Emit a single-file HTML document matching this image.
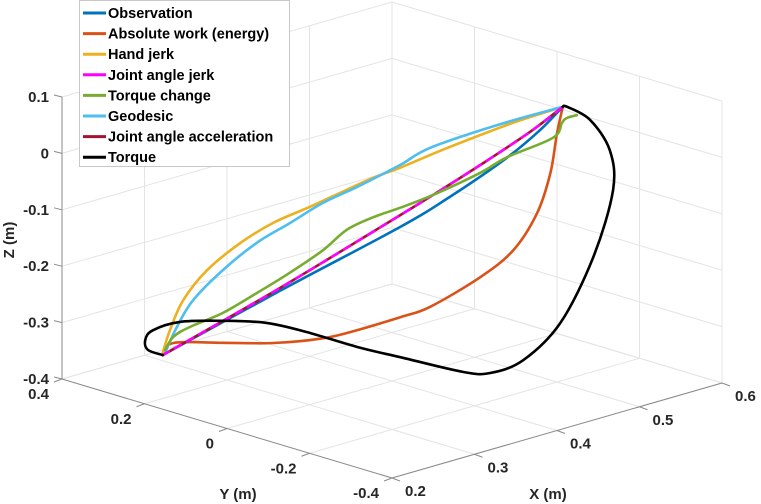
<!DOCTYPE html>
<html><head><meta charset="utf-8"><style>
body{margin:0;background:#fff;}
svg{display:block;font-family:"Liberation Sans",sans-serif;}
</style></head><body>
<svg id="chart" width="761" height="504" viewBox="0 0 761 504">
<g id="grid"></g>
<g id="axes"></g>
<g id="series"></g>
<g id="legend"></g>
</svg>
<script>
const xTicks=[0.2,0.3,0.4,0.5,0.6];
const yTicks=[0.4,0.2,0,-0.2,-0.4];
const zTicks=[0.1,0,-0.1,-0.2,-0.3,-0.4];
const seriesNames=["Observation","Absolute work (energy)","Hand jerk","Joint angle jerk","Torque change","Geodesic","Joint angle acceleration","Torque"];
const seriesColors=["#0072bd","#d95319","#edb120","#ff00ff","#77ac30","#4dbeee","#a2142f","#000000"];
const obsX=[0.272,0.314,0.460,0.420,0.489,0.529,0.557];
const obsY=[0.3,0.1,0.1,-0.1,-0.1,-0.1,-0.1];
const obsZ=[-0.366,-0.226,-0.174,-0.060,-0.020,0.012,0.042];
const workX=[0.272,0.285,0.345,0.306,0.366,0.408,0.460,0.396,0.457,0.497,0.526,0.542,0.550,0.557];
const workY=[0.3,0.3,0.3,0.1,0.1,0.1,0.1,-0.1,-0.1,-0.1,-0.1,-0.1,-0.1,-0.1];
const workZ=[-0.366,-0.350,-0.375,-0.315,-0.332,-0.335,-0.334,-0.245,-0.218,-0.187,-0.133,-0.069,-0.002,0.042];
const handX=[0.272,0.281,0.297,0.326,0.266,0.306,0.347,0.387,0.427,0.460,0.417,0.497,0.557];
const handY=[0.3,0.3,0.3,0.3,0.1,0.1,0.1,0.1,0.1,0.1,-0.1,-0.1,-0.1];
const handZ=[-0.362,-0.325,-0.279,-0.238,-0.121,-0.102,-0.093,-0.083,-0.073,-0.069,0.028,0.039,0.042];
const jointX=[0.272,0.314,0.460,0.400,0.457,0.517,0.557];
const jointY=[0.3,0.1,0.1,-0.1,-0.1,-0.1,-0.1];
const jointZ=[-0.366,-0.221,-0.153,-0.048,-0.019,0.014,0.042];
const tcX=[0.275,0.285,0.305,0.345,0.286,0.326,0.366,0.395,0.427,0.460,0.400,0.457,0.489,0.545,0.556,0.562,0.574];
const tcY=[0.3,0.3,0.3,0.3,0.1,0.1,0.1,0.1,0.1,0.1,-0.1,-0.1,-0.1,-0.1,-0.1,-0.1,-0.1];
const tcZ=[-0.358,-0.339,-0.330,-0.322,-0.218,-0.199,-0.176,-0.152,-0.143,-0.140,-0.048,-0.033,-0.019,-0.008,0.014,0.020,0.020];
const geoX=[0.275,0.289,0.309,0.345,0.286,0.326,0.366,0.408,0.460,0.496,0.477,0.557];
const geoY=[0.3,0.3,0.3,0.3,0.1,0.1,0.1,0.1,0.1,0.1,-0.1,-0.1];
const geoZ=[-0.363,-0.324,-0.284,-0.246,-0.129,-0.111,-0.092,-0.081,-0.064,-0.049,0.043,0.042];
const torqX=[0.272,0.254,0.251,0.260,0.293,0.345,0.298,0.347,0.408,0.460,0.436,0.469,0.509,0.554,0.594,0.618,0.614,0.590,0.562,0.557];
const torqY=[0.3,0.3,0.3,0.3,0.3,0.3,0.1,0.1,0.1,0.1,-0.1,-0.1,-0.1,-0.1,-0.1,-0.1,-0.1,-0.1,-0.1,-0.1];
const torqZ=[-0.366,-0.349,-0.330,-0.317,-0.316,-0.336,-0.276,-0.313,-0.365,-0.405,-0.377,-0.393,-0.387,-0.340,-0.240,-0.131,-0.059,0.005,0.040,0.042];

const NS="http://www.w3.org/2000/svg";
function P(x,y,z){return [62+825*(x-0.2)+412.5*(0.4-y), 379-237.5*(x-0.2)+123.75*(0.4-y)-564*(z+0.4)];}
function mk(tag,parent,attrs){const e=document.createElementNS(NS,tag);for(const k in attrs)e.setAttribute(k,attrs[k]);parent.appendChild(e);return e;}
function line(parent,a,b,stroke,w){return mk('line',parent,{x1:a[0],y1:a[1],x2:b[0],y2:b[1],stroke:stroke,'stroke-width':w});}
const grid=document.getElementById('grid'),axes=document.getElementById('axes'),ser=document.getElementById('series'),leg=document.getElementById('legend');
const gc="#e4e4e4";
xTicks.forEach(x=>{const l=line(grid,P(x,0.4,-0.4),P(x,-0.4,-0.4),gc,1);});
yTicks.forEach(y=>{const l=line(grid,P(0.2,y,-0.4),P(0.6,y,-0.4),gc,1);});
xTicks.forEach(x=>{const l=line(grid,P(x,0.4,-0.4),P(x,0.4,0.1),gc,1);});
zTicks.forEach(z=>{const l=line(grid,P(0.2,0.4,z),P(0.6,0.4,z),gc,1);});
yTicks.forEach(y=>{const l=line(grid,P(0.6,y,-0.4),P(0.6,y,0.1),gc,1);});
zTicks.forEach(z=>{const l=line(grid,P(0.6,0.4,z),P(0.6,-0.4,z),gc,1);});
const ac="#8a8a8a";
let a1=line(axes,P(0.2,0.4,-0.4),P(0.2,0.4,0.1),ac,1);
let a2=line(axes,P(0.2,0.4,-0.4),P(0.2,-0.4,-0.4),ac,1);
let a3=line(axes,P(0.2,-0.4,-0.4),P(0.6,-0.4,-0.4),ac,1);
function txt(s,x,y,anchor,name){const t=mk('text',axes,{x:x,y:y,'text-anchor':anchor,'font-size':'15','font-weight':'bold',fill:'#262626'});t.textContent=s;return t;}
function fmt(v){return (Math.round(v*10)/10).toString();}
zTicks.forEach(z=>{const p=P(0.2,0.4,z);const tk=line(axes,p,[p[0]-8,p[1]-2],ac,1);txt(fmt(z),p[0]-13,p[1]+5,'end','z-tick-label');});
yTicks.forEach(y=>{const p=P(0.2,y,-0.4);const tk=line(axes,p,[p[0]-8,p[1]+3],ac,1);txt(fmt(y),p[0]-13,p[1]+20,'end','y-tick-label');});
xTicks.forEach(x=>{const p=P(x,-0.4,-0.4);const tk=line(axes,p,[p[0]+8,p[1]+3],ac,1);txt(fmt(x),p[0]+13,p[1]+18,'start','x-tick-label');});
txt('Y (m)',238,499,'middle','y-axis-title');
txt('X (m)',548,499,'middle','x-axis-title');
const zt=txt('Z (m)',0,0,'middle','z-axis-title');zt.setAttribute('transform','translate(14,240) rotate(-90)');
function pathFrom(X,Y,Z){const pts=X.map((x,i)=>P(x,Y[i],Z[i]));let d='M'+pts[0][0].toFixed(1)+','+pts[0][1].toFixed(1);
for(let i=0;i<pts.length-1;i++){const p0=pts[Math.max(0,i-1)],p1=pts[i],p2=pts[i+1],p3=pts[Math.min(pts.length-1,i+2)];
const c1=[p1[0]+(p2[0]-p0[0])/6,p1[1]+(p2[1]-p0[1])/6],c2=[p2[0]-(p3[0]-p1[0])/6,p2[1]-(p3[1]-p1[1])/6];
d+=' C'+c1[0].toFixed(1)+','+c1[1].toFixed(1)+' '+c2[0].toFixed(1)+','+c2[1].toFixed(1)+' '+p2[0].toFixed(1)+','+p2[1].toFixed(1);}return d;}
function draw(X,Y,Z,color,name,dash){const p=mk('path',ser,{d:pathFrom(X,Y,Z),fill:'none',stroke:color,'stroke-width':2.6,'stroke-linejoin':'round','stroke-linecap':'round'});if(dash)p.setAttribute('stroke-dasharray',dash);}
draw(workX,workY,workZ,seriesColors[1],'absolute-work-line');
draw(handX,handY,handZ,seriesColors[2],'hand-jerk-line');
draw(geoX,geoY,geoZ,seriesColors[5],'geodesic-line');
draw(obsX,obsY,obsZ,seriesColors[0],'observation-line');
draw(jointX,jointY,jointZ,seriesColors[6],'joint-angle-acceleration-line');
draw(jointX,jointY,jointZ,seriesColors[3],'joint-angle-jerk-line','7 7');
draw(tcX,tcY,tcZ,seriesColors[4],'torque-change-line');
draw(torqX,torqY,torqZ,seriesColors[7],'torque-line');
const box=mk('rect',leg,{x:79.5,y:0.5,width:210,height:166,fill:'#fff',stroke:'#c8c8c8','stroke-width':1});

seriesNames.forEach((n,i)=>{const y=13+i*20.6;
const l=line(leg,[83,y],[106,y],seriesColors[i],3);
const t=mk('text',leg,{x:108,y:y+5,'font-size':'14.5','font-weight':'bold',fill:'#000'});t.textContent=n;});
</script>
</body></html>
